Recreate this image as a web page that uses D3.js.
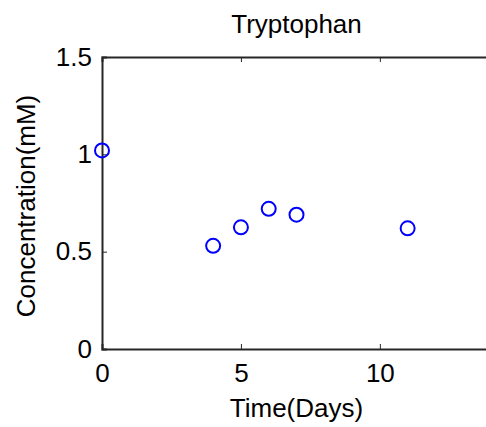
<!DOCTYPE html>
<html>
<head>
    <script src="https://d3js.org/d3.v7.min.js"></script>
    <style>
        body { margin: 0; background: #fff; }
        text { font-family: "Liberation Sans", Arial, sans-serif; fill: #000; }
    </style>
</head>
<body>
    <div id="viz"></div>
    <script type="text/javascript">

    var days = [0, 4, 5, 6, 7, 11];
    var conc = [1.02, 0.53, 0.625, 0.72, 0.69, 0.62];
    var xTicks = [0, 5, 10];
    var yTicks = [0, 0.5, 1, 1.5];

    var width = 486, height = 427;
    var m = { left: 102, top: 57, right: 491, bottom: 349 };

    var svg = d3.select("#viz")
        .append("svg")
        .attr("width", width)
        .attr("height", height);

    var x = d3.scaleLinear().domain([0, 14]).range([m.left, m.right]);
    var y = d3.scaleLinear().domain([0, 1.5]).range([m.bottom, m.top]);

    // box + inward ticks, matlab style
    var xb = svg.append("g").attr("transform", "translate(0," + m.bottom + ")")
        .call(d3.axisBottom(x).tickValues(xTicks).tickSize(-5).tickFormat(d3.format("d")));
    xb.selectAll(".tick text").attr("y", 33).attr("dy", 0);
    svg.append("g").attr("transform", "translate(0," + m.top + ")")
        .call(d3.axisTop(x).tickValues(xTicks).tickSize(-5).tickFormat(""));
    svg.append("g").attr("transform", "translate(" + m.left + ",0)")
        .call(d3.axisLeft(y).tickValues(yTicks).tickSize(-5).tickPadding(10).tickFormat(function(d) { return d; }));
    svg.append("g").attr("transform", "translate(" + m.right + ",0)")
        .call(d3.axisRight(y).tickValues(yTicks).tickSize(-5).tickFormat(""));

    svg.selectAll(".domain").attr("stroke", "#262626").attr("stroke-width", 2);
    svg.selectAll(".tick line").attr("stroke", "#262626");
    svg.selectAll(".tick text").style("font-size", "26px").attr("fill", "#000");

    svg.selectAll("circle.pt")
        .data(days)
        .enter().append("circle")
        .attr("class", "pt")
        .attr("cx", function(d) { return x(d); })
        .attr("cy", function(d, i) { return y(conc[i]); })
        .attr("r", 7)
        .attr("fill", "none")
        .attr("stroke", "#0000ff")
        .attr("stroke-width", 2);

    svg.append("text")
        .attr("x", (m.left + m.right) / 2).attr("y", 33)
        .attr("text-anchor", "middle")
        .style("font-size", "26px")
        .text("Tryptophan");

    svg.append("text")
        .attr("x", (m.left + m.right) / 2).attr("y", 417)
        .attr("text-anchor", "middle")
        .style("font-size", "26px")
        .text("Time(Days)");

    svg.append("text")
        .attr("transform", "translate(35,206) rotate(-90)")
        .attr("text-anchor", "middle")
        .style("font-size", "26px")
        .text("Concentration(mM)");

    </script>
</body>
</html>
